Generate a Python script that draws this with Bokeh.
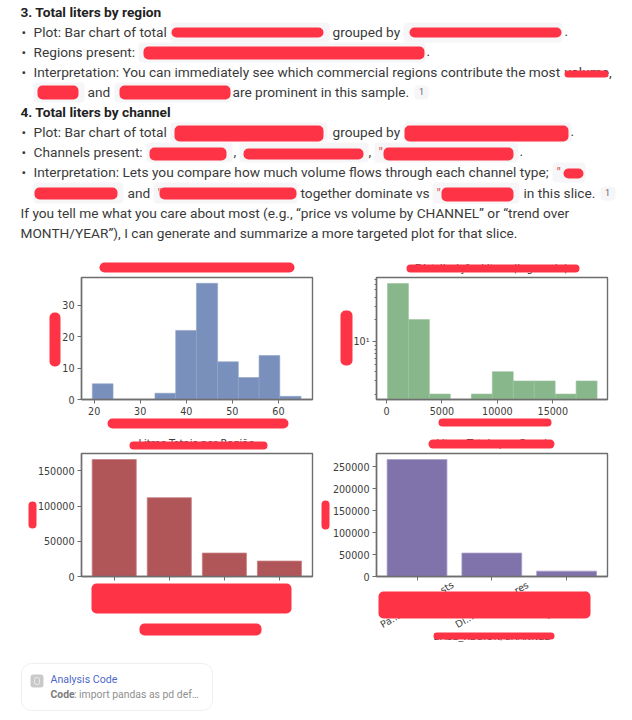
from bokeh.plotting import figure
from bokeh.layouts import column, row
from bokeh.core.properties import value
from bokeh.models import Range1d, Label, BoxAnnotation, LabelSet, ColumnDataSource, FixedTicker, BasicTickFormatter, Spacer
from bokeh.embed import file_html
from bokeh.resources import INLINE

# ---------- data ----------
hist1_edges = [19.6, 24.1, 28.6, 33.2, 37.7, 42.2, 46.8, 51.3, 55.8, 60.3, 64.9]
hist1_counts = [5, 0, 0, 2, 22, 37, 12, 7, 14, 1]
hist2_edges = [90, 1980, 3870, 5760, 7650, 9540, 11430, 13320, 15210, 17100, 18990]
hist2_counts = [61, 20, 2, 0, 2, 4, 3, 3, 2, 3]
region_totals = [166200, 111900, 33300, 21900]
channel_names = ["Pa...................sts", "Di...................res", "............ps"]
channel_totals = [266800, 53500, 12200]

RED = "#fe3446"
CHIP = "#f6f6f8"
INK = "#3a3a3a"
QUOTE = "#d9534f"
SPINE = "#6e6e6e"
TICK = "#3c3c3c"
BODY = "Roboto"
PLOT = "DejaVu Sans"
PAGE_W, PAGE_H = 632, 712

# page-coordinate rectangles: (left, right, top, bottom)
chips = [
    (170, 329, 22, 42), (403, 562, 22, 42), (138, 425, 42, 62),
    (33, 84, 82, 102), (114, 231, 82, 102), (170, 327, 122, 142), (403, 571, 122, 142),
    (146, 232, 142, 162), (239, 368, 142, 162), (374, 518, 142, 162),
    (552, 585, 162, 182), (33, 123, 182, 203), (153, 297, 182, 203), (432, 519, 182, 203),
    (414, 428, 85, 99), (600, 615, 186, 200),
]
reds = [
    (171, 323, 27, 37), (409, 561, 27, 37), (143, 424, 46, 59), (564, 608, 70, 77),
    (37, 78, 85, 99), (119, 230, 85, 99), (174, 323, 125, 141), (404, 568, 125, 141),
    (149, 226, 147, 160), (243, 363, 148, 159), (383, 513, 147, 160),
    (563, 583, 168, 178), (34, 117, 187, 199), (159, 296, 187, 199), (441, 513, 187, 201),
    (99, 294, 262, 272), (49, 60, 312, 366), (107, 288, 418, 428),
    (340, 352, 310, 365), (438, 551, 418, 426), (406, 579, 264, 272),
    (129, 267, 441, 449), (28, 36, 501, 528), (91, 291, 583, 613), (139, 261, 623, 635),
    (428, 554, 439, 448), (321, 329, 500, 529), (378, 590, 591, 618), (433, 554, 632, 639),
]

# (x, y, text, bold, colour)
text_top = [
    (20, 11, "3. Total liters by region", True, "#222222"),
    (21, 31, "•", False, INK), (33, 31, "Plot: Bar chart of total", False, INK),
    (332, 31, "grouped by", False, INK), (564, 31, ".", False, INK),
    (21, 51, "•", False, INK), (33, 51, "Regions present:", False, INK), (426, 51, ".", False, INK),
    (21, 71, "•", False, INK),
    (33, 71, "Interpretation: You can immediately see which commercial regions contribute the most", False, INK),
    (564, 71, "volume,", False, INK),
    (87, 91, "and", False, INK), (232, 91, "are prominent in this sample.", False, INK),
    (20, 111, "4. Total liters by channel", True, "#222222"),
    (21, 131, "•", False, INK), (33, 131, "Plot: Bar chart of total", False, INK),
    (332, 131, "grouped by", False, INK), (570, 131, ".", False, INK),
    (21, 151, "•", False, INK), (33, 151, "Channels present:", False, INK),
    (233, 151, ",", False, INK), (368, 151, ",", False, INK), (519, 151, ".", False, INK),
    (378, 151, "\"", False, QUOTE),
    (21, 171, "•", False, INK),
    (33, 171, "Interpretation: Lets you compare how much volume flows through each channel type;", False, INK),
    (556, 171, "\"", False, QUOTE),
    (127, 192, "and", False, INK), (157, 192, "\"", False, QUOTE), (300, 192, "together dominate vs", False, INK),
    (436, 192, "\"", False, QUOTE), (523, 192, "in this slice.", False, INK),
    (20, 212, "If you tell me what you care about most (e.g., “price vs volume by CHANNEL” or “trend over", False, INK),
    (20, 232, "MONTH/YEAR”), I can generate and summarize a more targeted plot for that slice.", False, INK),
]


def box(p, rect, color, radius=5, line=None):
    l, r, t, b = rect
    p.add_layout(BoxAnnotation(left=l, right=r, top=t, bottom=b, fill_color=color, fill_alpha=1,
                               line_color=line, line_alpha=1 if line else 0, line_width=1, border_radius=radius))


def label(p, x, y, s, size="13.7px", color=INK, bold=False, font=BODY, align="left"):
    p.add_layout(Label(x=x, y=y, text=s, text_font=font, text_font_size=size, text_color=color,
                       text_baseline="middle", text_align=align, text_font_style="bold" if bold else "normal"))


def chart(width, height, fl, fr, ft, fb, px0, py0, xr, yr, **kw):
    p = figure(width=width, height=height, output_backend="svg", toolbar_location=None,
               x_range=Range1d(*xr), y_range=Range1d(*yr), min_border_left=fl - px0, min_border_right=px0 + width - fr,
               min_border_top=ft - py0, min_border_bottom=py0 + height - fb, frame_width=fr - fl, frame_height=fb - ft,
               background_fill_color="white", border_fill_color="white", outline_line_color=SPINE,
               outline_line_width=1.4, **kw)
    p.grid.visible = False
    for ax in (p.xaxis[0], p.yaxis[0]):
        ax.axis_line_color = SPINE
        ax.axis_line_width = 1.4
        ax.major_tick_line_color = SPINE
        ax.major_tick_in = 0
        ax.major_tick_out = 4
        ax.minor_tick_line_color = None
        ax.major_label_text_font = PLOT
        ax.major_label_text_font_size = "9.6px"
        ax.major_label_text_color = TICK
        ax.major_label_standoff = 3
    return p


# ---------- histogram ----------
c1 = chart(320, 186, 81, 312, 277, 399, 0, 250, (17.25, 67.4), (0, 38.85))
c1.quad(left=hist1_edges[:-1], right=hist1_edges[1:], top=hist1_counts, bottom=0,
        fill_color="#7a90bc", line_color="#8fa2c8", line_width=0.6)
c1.xaxis.ticker = FixedTicker(ticks=[20, 30, 40, 50, 60])
c1.yaxis.ticker = FixedTicker(ticks=[0, 10, 20, 30])

# ---------- log histogram ----------
c2 = chart(312, 186, 376, 607, 277, 399, 320, 250, (-900, 19930), (1.69, 73.4), y_axis_type="log")
shown = [i for i, n in enumerate(hist2_counts) if n > 0]
c2.quad(left=[hist2_edges[i] for i in shown], right=[hist2_edges[i + 1] for i in shown],
        top=[hist2_counts[i] for i in shown], bottom=1,
        fill_color="#88b78b", line_color="#9cc39e", line_width=0.6)
c2.xaxis.ticker = FixedTicker(ticks=[0, 5000, 10000, 15000])
c2.yaxis.ticker = FixedTicker(ticks=[10], minor_ticks=[2, 3, 4, 5, 6, 7, 8, 9, 20, 30, 40, 50, 60, 70])
c2.yaxis.minor_tick_line_color = SPINE
c2.yaxis.minor_tick_in = 0
c2.yaxis.minor_tick_out = 2
c2.yaxis.major_label_overrides = {10: "10¹"}

# ---------- totals by region ----------
c3 = chart(320, 276, 81, 312, 453, 576, 0, 436, (-0.594, 3.6), (0, 174762))
c3.vbar(x=list(range(len(region_totals))), top=region_totals, width=0.8, bottom=0,
        fill_color="#b05558", line_color="#c87e80", line_width=0.8)
c3.xaxis.ticker = FixedTicker(ticks=list(range(len(region_totals))))
c3.xaxis.major_label_overrides = {i: "" for i in range(len(region_totals))}
c3.yaxis.ticker = FixedTicker(ticks=[0, 50000, 100000, 150000])
c3.yaxis.formatter = BasicTickFormatter(use_scientific=False)

# ---------- totals by channel ----------
c4_x = (-0.542, 2.547)
c4 = chart(312, 276, 376, 607, 453, 576, 320, 436, c4_x, (0, 280600))
positions = list(range(len(channel_totals)))
c4.vbar(x=positions, top=channel_totals, width=0.8, bottom=0,
        fill_color="#8073ab", line_color="#a89ec8", line_width=0.8)
c4.xaxis.ticker = FixedTicker(ticks=positions)
c4.xaxis.major_label_overrides = {i: "" for i in positions}
c4.yaxis.ticker = FixedTicker(ticks=[0, 50000, 100000, 150000, 200000, 250000])
c4.yaxis.formatter = BasicTickFormatter(use_scientific=False)

# ---------- transparent full-page overlay: text, redactions, card ----------
over = figure(width=PAGE_W, height=PAGE_H, output_backend="svg", toolbar_location=None,
              x_range=Range1d(0, PAGE_W), y_range=Range1d(PAGE_H, 0), min_border=0, outline_line_color=None,
              background_fill_alpha=0, border_fill_alpha=0, margin=(-PAGE_H, 0, 0, 0))
over.axis.visible = False
over.grid.visible = False
for c in chips:
    box(over, c, CHIP, 4)
for x, y, s, b, col in text_top:
    label(over, x, y, s, bold=b, color=col)
label(over, 421, 91, "1", size="9px", color="#666666", align="center")
label(over, 607, 192, "1", size="9px", color="#666666", align="center")

# chart 4 tick labels: chart data x mapped across the overlay through an extra range
per_px = (c4_x[1] - c4_x[0]) / (607 - 376)
over.extra_x_ranges["c4"] = Range1d(c4_x[0] - 376 * per_px, c4_x[0] + (PAGE_W - 376) * per_px)
over.add_layout(LabelSet(x="x", y="y", text="t", x_range_name="c4",
                         source=ColumnDataSource(dict(x=positions, y=[604] * len(positions), t=channel_names)),
                         angle=30, angle_units="deg", text_align="center", text_baseline="middle",
                         text_font=value(PLOT), text_font_size="9.6px", text_color=TICK))

label(over, 491, 267, "Distribuição Litros (log-scale)", size="10.5px", font=PLOT, color=TICK, align="center")
label(over, 196, 443, "Litros Totais por Região", size="10px", font=PLOT, color=TICK, align="center")
label(over, 491, 443, "Litros Totais por Canal", size="10px", font=PLOT, color=TICK, align="center")
label(over, 491, 636, "BASE_REGION/CHANNEL", size="9.5px", font=PLOT, color=TICK, align="center")
for c in reds:
    box(over, c, RED, 5)

# card
box(over, (21, 212, 663, 710), "#ffffff", 10, line="#eeeef0")
box(over, (30, 43, 674, 687), "#c9c9c9", 3)
box(over, (34, 39, 677, 684), "#c9c9c9", 2, line="#ececec")
label(over, 50, 679, "Analysis Code", size="10.6px", color="#4f68c8")
label(over, 50, 694, "Code", size="10.4px", color="#7d7d7d", bold=True)
label(over, 73.5, 694, ": import pandas as pd def…", size="10.4px", color="#8f8f8f")

page = column(Spacer(width=PAGE_W, height=250), row(c1, c2, spacing=0), row(c3, c4, spacing=0), over, spacing=0)
open("out.html", "w").write(file_html(page, INLINE))
